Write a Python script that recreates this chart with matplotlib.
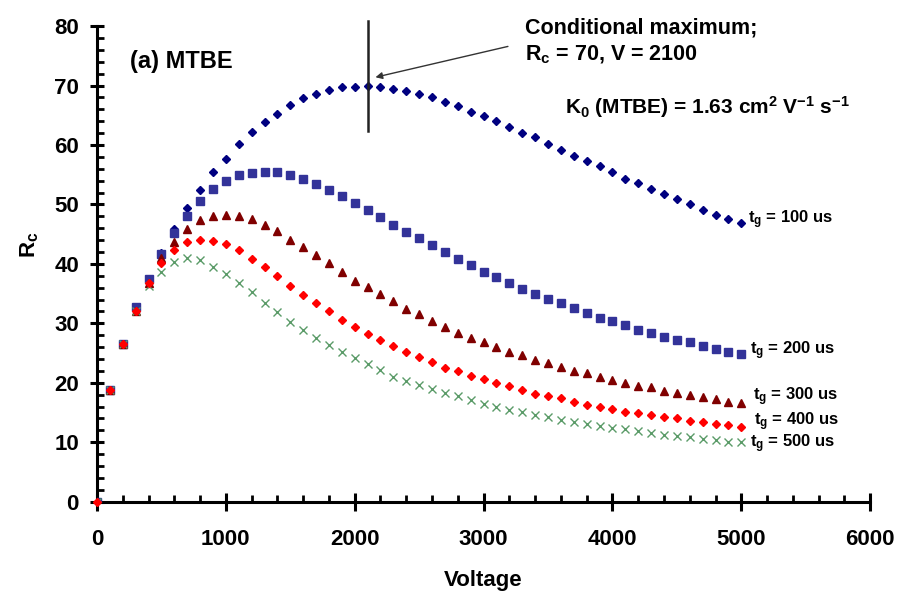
import matplotlib
matplotlib.use("Agg")
import matplotlib.pyplot as plt
from matplotlib.ticker import MultipleLocator

voltage = list(range(0, 5100, 100))

rc_100 = [0, 18.8, 26.5, 32.5, 37.4, 41.8, 45.8, 49.4, 52.4, 55.4, 57.7,
          60.2, 62.2, 63.9, 65.3, 66.8, 67.9, 68.6, 69.3, 69.7, 69.8,
          69.9, 69.7, 69.4, 69.1, 68.6, 68.0, 67.3, 66.5, 65.6, 64.9,
          64.1, 63.0, 62.0, 61.3, 60.2, 59.2, 58.2, 57.3, 56.4, 55.4,
          54.3, 53.6, 52.6, 51.8, 50.9, 50.1, 49.1, 48.2, 47.5, 46.9]
rc_200 = [0, 18.8, 26.5, 32.7, 37.5, 41.7, 45.2, 48.1, 50.5, 52.6, 54.0,
          55.0, 55.3, 55.5, 55.5, 54.9, 54.3, 53.5, 52.5, 51.4, 50.3,
          49.1, 47.9, 46.6, 45.4, 44.4, 43.1, 42.0, 40.8, 39.8, 38.7,
          37.8, 36.8, 35.8, 34.9, 34.1, 33.4, 32.5, 31.8, 30.9, 30.4,
          29.7, 28.9, 28.4, 27.7, 27.2, 26.8, 26.1, 25.6, 25.2, 24.8]
rc_300 = [0, 18.8, 26.5, 32.0, 36.7, 41.0, 43.6, 45.8, 47.4, 48.1, 48.2,
          48.1, 47.6, 46.5, 45.6, 44.1, 42.9, 41.5, 40.1, 38.7, 37.2,
          36.1, 34.9, 33.7, 32.4, 31.5, 30.4, 29.4, 28.4, 27.6, 26.8,
          26.0, 25.2, 24.6, 23.8, 23.3, 22.7, 22.0, 21.6, 21.0, 20.5,
          20.0, 19.5, 19.2, 18.6, 18.2, 17.9, 17.6, 17.3, 16.8, 16.6]
rc_400 = [0, 18.8, 26.5, 32.1, 36.8, 40.2, 42.4, 43.6, 44.0, 43.9, 43.3,
          42.4, 40.9, 39.4, 37.9, 36.3, 34.8, 33.4, 32.0, 30.6, 29.3,
          28.2, 27.2, 26.2, 25.2, 24.4, 23.5, 22.5, 22.0, 21.2, 20.6,
          19.9, 19.4, 18.8, 18.1, 17.7, 17.4, 16.7, 16.3, 16.0, 15.5,
          15.1, 14.9, 14.5, 14.3, 14.0, 13.6, 13.4, 13.1, 12.9, 12.6]
rc_500 = [0, 18.8, 26.5, 32.0, 36.2, 38.7, 40.3, 41.0, 40.6, 39.5, 38.3,
          36.7, 35.2, 33.5, 31.9, 30.3, 28.9, 27.5, 26.3, 25.1, 24.1,
          23.1, 22.1, 21.0, 20.3, 19.6, 18.9, 18.2, 17.7, 17.1, 16.5,
          16.0, 15.4, 15.0, 14.6, 14.3, 13.8, 13.4, 13.0, 12.7, 12.4,
          12.2, 11.8, 11.5, 11.2, 11.1, 10.8, 10.5, 10.3, 10.1, 10.0]

series_labels = ["100", "200", "300", "400", "500"]

plt.rcParams['font.family'] = ['Liberation Sans', 'DejaVu Sans']
plt.rcParams['mathtext.fontset'] = 'custom'
plt.rcParams['mathtext.rm'] = 'Liberation Sans:bold'
plt.rcParams['mathtext.it'] = 'Liberation Sans:bold'
plt.rcParams['mathtext.bf'] = 'Liberation Sans:bold'

fig = plt.figure(figsize=(8.98, 5.95), dpi=100)
ax = fig.add_axes([0.108, 0.157, 0.861, 0.799])

ax.plot(voltage, rc_100, linestyle='none', marker='D', ms=3.7, color='#000080', mec='#000080', zorder=3)
ax.plot(voltage, rc_200, linestyle='none', marker='s', ms=5.3, color='#333399', mec='#333399', zorder=3)
ax.plot(voltage, rc_300, linestyle='none', marker='^', ms=6.2, color='#800000', mec='#800000', zorder=3)
ax.plot(voltage, rc_500, linestyle='none', marker='x', ms=5.3, mew=1.0, color='#5B9B68', zorder=3)
ax.plot(voltage, rc_400, linestyle='none', marker='D', ms=4.0, color='#FF0000', mec='#FF0000',
        zorder=4, clip_on=False)

ax.set_xlim(0, 6000)
ax.set_ylim(0, 80)
ax.xaxis.set_major_locator(MultipleLocator(1000))
ax.xaxis.set_minor_locator(MultipleLocator(200))
ax.yaxis.set_major_locator(MultipleLocator(10))
ax.yaxis.set_minor_locator(MultipleLocator(2))

for s in ['top', 'right']:
    ax.spines[s].set_visible(False)
for s in ['left', 'bottom']:
    ax.spines[s].set_linewidth(2.2)

ax.tick_params(axis='x', which='major', direction='inout', length=13, width=2.2, labelsize=16, pad=13)
ax.tick_params(axis='y', which='major', direction='inout', length=10, width=2.2, labelsize=16, pad=8)
ax.tick_params(which='minor', direction='in', length=5, width=2.0)
tick_font = ['Liberation Sans Narrow', 'Liberation Sans']
for lbl in ax.get_xticklabels() + ax.get_yticklabels():
    lbl.set_fontweight('bold')
    lbl.set_family(tick_font)

ax.set_xlabel('Voltage', fontsize=16, fontweight='bold', family=tick_font, va='center')
ax.xaxis.set_label_coords(0.499, -0.165)
ax.set_ylabel(r'R$_\mathregular{c}$', fontsize=16, fontweight='bold', va='center')
ax.yaxis.set_label_coords(-0.087, 0.54)

# annotation for conditional maximum
ax.plot([2100, 2100], [62.3, 80.8], color='#222222', lw=1.8, clip_on=False, zorder=4)
ax.annotate('', xy=(2140, 71.3), xytext=(3210, 76.7),
            arrowprops=dict(arrowstyle='-|>', color='#333333', lw=1.0, mutation_scale=10))

ax.text(255, 74.0, '(a) MTBE', fontsize=17, fontweight='bold', va='center')
ax.text(3323, 79.7, 'Conditional maximum;', fontsize=15.5, fontweight='bold', va='center')
ax.text(3323, 75.2, r'R$_\mathregular{c}$ = 70, V = 2100', fontsize=15.5, fontweight='bold', va='center')
ax.text(3634, 66.4, r'K$_\mathregular{0}$ (MTBE) = 1.63 cm$^\mathregular{2}$ V$^\mathregular{-1}$ s$^\mathregular{-1}$',
        fontsize=15, fontweight='bold', va='center')

label_pos = [(5055, 47.4), (5070, 25.4), (5092, 17.6), (5095, 13.4), (5070, 9.7)]
for lab, (xv, yv) in zip(series_labels, label_pos):
    ax.text(xv, yv, r't$_\mathregular{g}$ = ' + lab + ' us', fontsize=12, fontweight='bold', va='center')

fig.savefig('out.png', dpi=100)
